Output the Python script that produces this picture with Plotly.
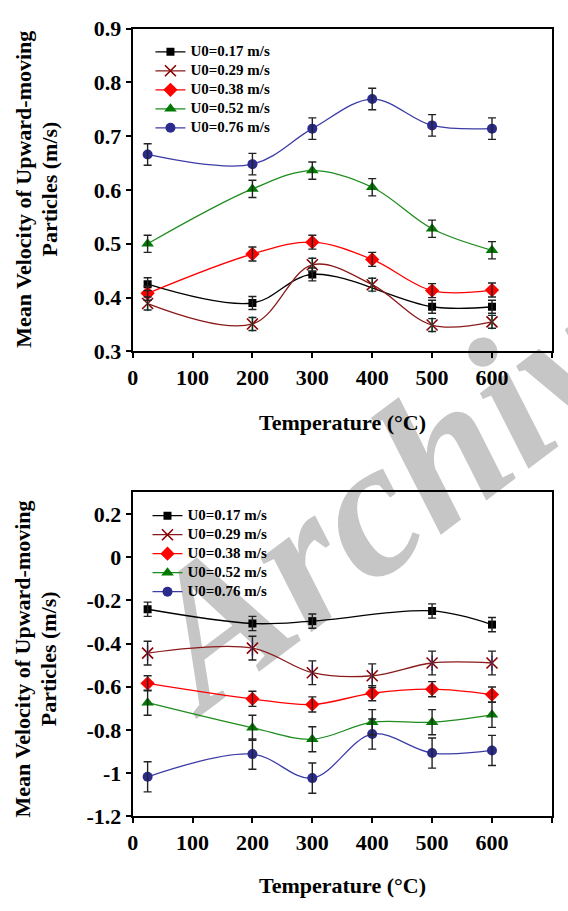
import plotly.graph_objects as go

W, H = 568, 911

# ---------------- data ----------------
temps = [25, 200, 300, 400, 500, 600]
temps_017 = [25, 200, 300, 500, 600]
series_names = ["U0=0.17 m/s", "U0=0.29 m/s", "U0=0.38 m/s", "U0=0.52 m/s", "U0=0.76 m/s"]

top_017 = [0.425, 0.390, 0.443, 0.383, 0.383]
top_029 = [0.389, 0.351, 0.461, 0.424, 0.349, 0.355]
top_038 = [0.408, 0.481, 0.503, 0.471, 0.413, 0.414]
top_052 = [0.500, 0.602, 0.636, 0.605, 0.528, 0.488]
top_076 = [0.666, 0.648, 0.714, 0.769, 0.720, 0.714]
top_err = [0.012, 0.012, 0.013, 0.016, 0.020]

bot_017 = [-0.241, -0.307, -0.296, -0.249, -0.312]
bot_029 = [-0.444, -0.421, -0.535, -0.549, -0.490, -0.490]
bot_038 = [-0.584, -0.656, -0.682, -0.630, -0.611, -0.636]
bot_052 = [-0.674, -0.790, -0.843, -0.764, -0.764, -0.730]
bot_076 = [-1.017, -0.912, -1.023, -0.819, -0.907, -0.895]
bot_err = [0.033, 0.055, 0.035, 0.058, 0.070]

x_ticks = [0, 100, 200, 300, 400, 500, 600, 700]
top_yticks = [0.3, 0.4, 0.5, 0.6, 0.7, 0.8, 0.9]
top_yticktext = ["0.3", "0.4", "0.5", "0.6", "0.7", "0.8", "0.9"]
bot_yticks = [-1.2, -1.0, -0.8, -0.6, -0.4, -0.2, 0.0, 0.2]
bot_yticktext = ["-1.2", "-1", "-0.8", "-0.6", "-0.4", "-0.2", "0", "0.2"]

# ---------------- styles ----------------
FONT = "Liberation Serif, Times New Roman, serif"
line_colors = ["#000000", "#8B1A1A", "#FF0000", "#1E8C1E", "#3C3CA6"]
marker_colors = ["#000000", "#8B0000", "#FF0000", "#007A00", "#2B2B8E"]
symbols = ["square", "x-thin-open", "diamond", "triangle-up", "circle"]
sizes = [8, 11, 11, 11, 10]

fig = go.Figure()

def add_chart(xs_list, ys_list, errs, xa, ya, legend):
    for i, (xs, ys) in enumerate(zip(xs_list, ys_list)):
        mk = dict(symbol=symbols[i], size=sizes[i], color=marker_colors[i])
        if symbols[i].endswith("open"):
            mk["line"] = dict(width=1.6, color=marker_colors[i])
        fig.add_trace(go.Scatter(
            x=xs, y=ys,
            name='<span style="font-size:15px">' + series_names[i] + '</span>',
            mode="lines+markers",
            line=dict(color=line_colors[i], width=1.3, shape="spline", smoothing=1.0),
            marker=mk, xaxis=xa, yaxis=ya, legend=legend))
        if symbols[i] == "x-thin-open":
            fig.add_trace(go.Scatter(
                x=xs, y=ys, mode="markers", showlegend=False,
                marker=dict(symbol="line-ns-open", size=11,
                            line=dict(width=1.6, color=marker_colors[i])),
                xaxis=xa, yaxis=ya, hoverinfo="skip"))
    for i, (xs, ys) in enumerate(zip(xs_list, ys_list)):
        fig.add_trace(go.Scatter(
            x=xs, y=ys, mode="markers", showlegend=False,
            marker=dict(size=1, color="rgba(0,0,0,0)"),
            error_y=dict(type="constant", value=errs[i], color="#222222",
                         thickness=1.4, width=4),
            xaxis=xa, yaxis=ya, hoverinfo="skip"))

add_chart([temps_017, temps, temps, temps, temps],
          [top_017, top_029, top_038, top_052, top_076], top_err, "x", "y", "legend")
add_chart([temps_017, temps, temps, temps, temps],
          [bot_017, bot_029, bot_038, bot_052, bot_076], bot_err, "x2", "y2", "legend2")

# ---------------- layout ----------------
def px_x(p):
    return p / W

def px_y(p):
    return 1 - p / H

xdom = [px_x(128), px_x(552)]
top_dom = [px_y(349), px_y(17)]
bot_dom = [px_y(827), px_y(494)]

tickfont = dict(family=FONT, size=22, color="black", weight="bold")
axis_common = dict(showline=True, linewidth=2, linecolor="black", mirror=True,
                   ticks="outside", ticklen=5, tickwidth=1.5, tickcolor="black",
                   showgrid=False, zeroline=False, tickfont=tickfont, fixedrange=True)

legend_font = dict(family=FONT, size=12, color="black", weight="bold")
fig.update_layout(
    width=W, height=H,
    margin=dict(l=0, r=0, t=0, b=0),
    paper_bgcolor="white", plot_bgcolor="rgba(0,0,0,0)",
    xaxis=dict(domain=xdom, range=[0, 700.5], tickvals=x_ticks, anchor="y", **axis_common),
    yaxis=dict(domain=top_dom, range=[0.3, 0.9], tickvals=top_yticks,
               ticktext=top_yticktext, anchor="x", **axis_common),
    xaxis2=dict(domain=xdom, range=[0, 700.5], tickvals=x_ticks, anchor="y2", **axis_common),
    yaxis2=dict(domain=bot_dom, range=[-1.2, 0.3], tickvals=bot_yticks,
                ticktext=bot_yticktext, anchor="x2", **axis_common),
    legend=dict(x=px_x(146), y=px_y(26), xanchor="left", yanchor="top",
                bgcolor="rgba(0,0,0,0)", borderwidth=0, font=legend_font,
                tracegroupgap=0),
    legend2=dict(x=px_x(143), y=px_y(503), xanchor="left", yanchor="top",
                 bgcolor="rgba(0,0,0,0)", borderwidth=0, font=legend_font,
                 tracegroupgap=0),
    showlegend=True,
)

title_font = dict(family=FONT, size=22, color="black", weight="bold")
annots = []
for yc, xc in [(422, 340), (898, 340)]:
    annots.append(dict(text="Temperature (°C)", x=px_x(xc), y=px_y(yc), xref="paper",
                       yref="paper", showarrow=False, xanchor="center", yanchor="middle",
                       font=title_font))
for yc in [182, 665]:
    annots.append(dict(text="Mean Velocity of Upward-moving", x=px_x(17), y=px_y(yc),
                       xref="paper", yref="paper", showarrow=False, textangle=-90,
                       xanchor="center", yanchor="middle", font=title_font))
    annots.append(dict(text="Particles (m/s)", x=px_x(43), y=px_y(yc),
                       xref="paper", yref="paper", showarrow=False, textangle=-90,
                       xanchor="center", yanchor="middle", font=title_font))
fig.update_layout(annotations=annots)

# watermark (drawn below the data)
cx, cy = px_x(401), px_y(455)
fig.add_shape(type="rect", xref="paper", yref="paper",
              x0=cx - 0.005, x1=cx + 0.005, y0=cy - 0.005, y1=cy + 0.005,
              line=dict(width=0, color="rgba(0,0,0,0)"), fillcolor="rgba(0,0,0,0)",
              layer="below",
              label=dict(text="<b><i>Archive</i></b>", textangle=-37,
                         textposition="middle center",
                         font=dict(family=FONT, size=195, color="#C6C6C6")))

fig.write_html("out.html")
